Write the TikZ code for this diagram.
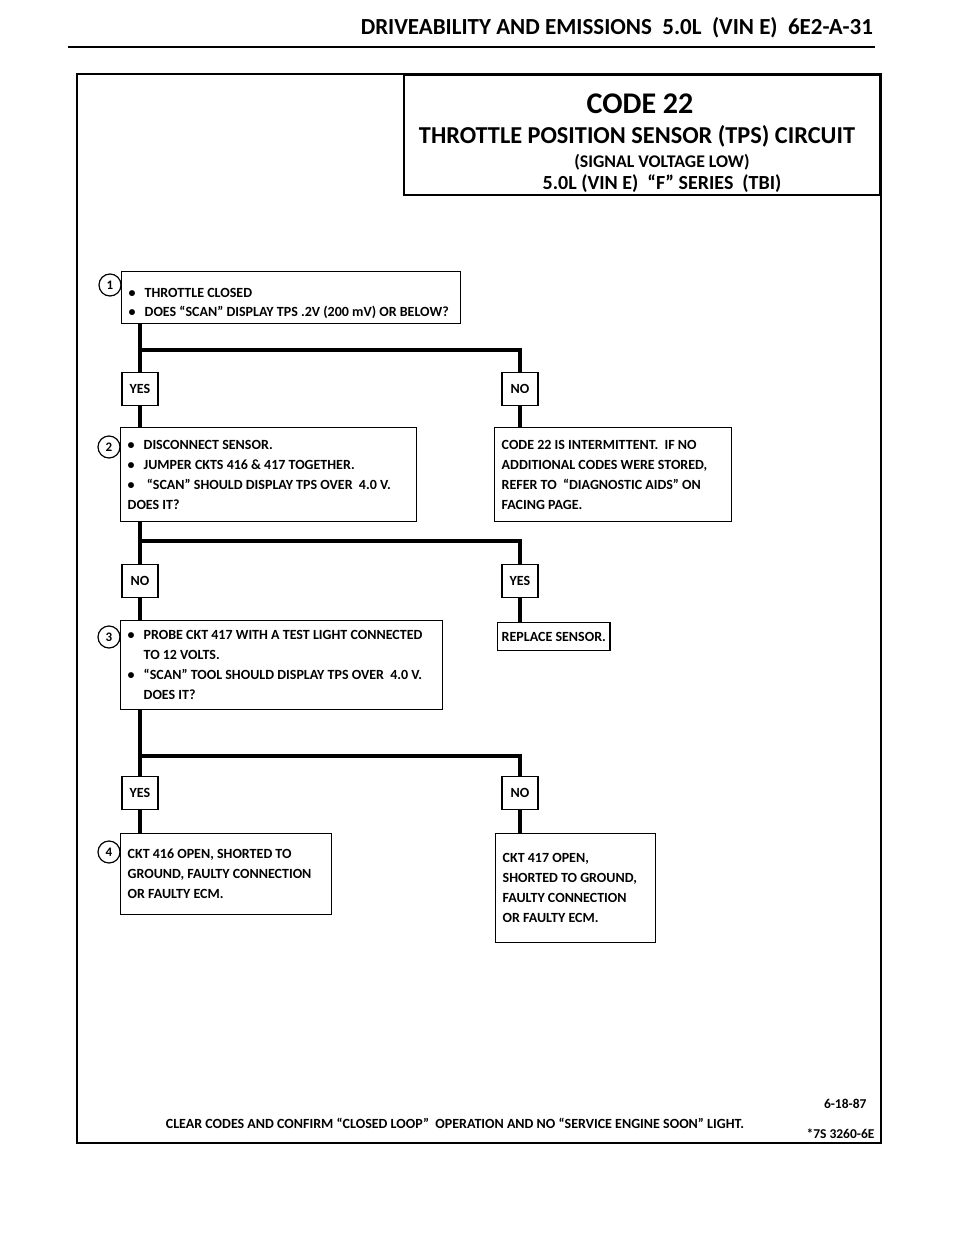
\documentclass[tikz,border=0pt]{standalone}
\usepackage{fontspec}
\setmainfont{Carlito}
\newcommand{\bul}{\makebox[16pt][l]{\textbullet}}
\newcommand{\ind}{\hspace*{16pt}}
\tikzset{
    stepbox/.style={draw, line width=1.4pt, anchor=north west, align=flush left,
        inner xsep=7pt, inner ysep=0pt, font=\bfseries\fontsize{14}{20}\selectfont},
    ynbox/.style={draw, line width=1.4pt, minimum height=33pt, minimum width=36pt, inner xsep=4pt,
        font=\bfseries\fontsize{14}{14}\selectfont},
    stepnum/.style={draw, circle, line width=1.2pt, minimum size=22pt, inner sep=0pt,
        font=\bfseries\fontsize{13}{14}\selectfont},
    flow/.style={line width=3.7pt, line join=miter},
}
\begin{document}
\begin{tikzpicture}[x=1pt,y=-1pt]
        \useasboundingbox (0,0) rectangle (960,1242);

        % page heading
        \node[anchor=base east, inner sep=0pt, font=\bfseries\fontsize{23}{25}\selectfont] (head) at (873,34)
            {DRIVEABILITY AND EMISSIONS\ \ 5.0L\ \ (VIN E)\ \ 6E2-A-31};
        \draw[line width=2.5pt] (68,47) -- (875,47);

        % frame and title
        \draw[line width=2.6pt] (77,74) rectangle (881,1143);
        \node[draw, line width=1.6pt, anchor=north east, minimum width=476pt, minimum height=120pt] (title) at (881,74) {};
        \node[anchor=base, font=\bfseries\fontsize{30}{32}\selectfont] (code) at (640,113) {CODE 22};
        \node[anchor=base, font=\bfseries\fontsize{24.3}{26}\selectfont] (tps) at (637,143) {THROTTLE POSITION SENSOR (TPS) CIRCUIT};
        \node[anchor=base, font=\bfseries\fontsize{17.8}{19}\selectfont] (sig) at (662,167) {(SIGNAL VOLTAGE LOW)};
        \node[anchor=base, font=\bfseries\fontsize{20}{22}\selectfont] (ser) at (662,189) {5.0L (VIN E)\ \ ``F'' SERIES\ \ (TBI)};

        % step 1
        \node[stepbox, text width=325pt, minimum height=52pt] (s1) at (121,271)
            {\rule{0pt}{20pt}\bul THROTTLE CLOSED\\[-1pt]\bul DOES ``SCAN'' DISPLAY TPS .2V (200 mV) OR BELOW?};
        \node[stepnum] (n1) at (110,285) {1};
        \node[ynbox] (yes1) at (140,389) {YES};
        \node[ynbox] (no1) at (520,389) {NO};

        % step 2
        \node[stepbox, text width=282pt, minimum height=94pt] (s2) at (120,427)
            {\bul DISCONNECT SENSOR.\\
             \bul JUMPER CKTS 416 \& 417 TOGETHER.\\
             \bul\ ``SCAN'' SHOULD DISPLAY TPS OVER\ \ 4.0 V.\\
             DOES IT?};
        \node[stepnum] (n2) at (109,447) {2};
        \node[stepbox, text width=223pt, minimum height=94pt] (inter) at (494,427)
            {CODE 22 IS INTERMITTENT.\ \ IF NO\\
             ADDITIONAL CODES WERE STORED,\\
             REFER TO\ \ ``DIAGNOSTIC AIDS'' ON\\
             FACING PAGE.};
        \node[ynbox] (no2) at (140,581) {NO};
        \node[ynbox] (yes2) at (520,581) {YES};

        % step 3
        \node[stepbox, text width=308pt, minimum height=89pt] (s3) at (120,620)
            {\bul PROBE CKT 417 WITH A TEST LIGHT CONNECTED\\
             \ind TO 12 VOLTS.\\
             \bul ``SCAN'' TOOL SHOULD DISPLAY TPS OVER\ \ 4.0 V.\\
             \ind DOES IT?};
        \node[stepnum] (n3) at (109,637) {3};
        \node[stepbox, inner xsep=4pt, minimum height=28pt] (repl) at (497,622) {REPLACE SENSOR.};
        \node[ynbox] (yes3) at (140,793) {YES};
        \node[ynbox] (no3) at (520,793) {NO};

        % step 4
        \node[stepbox, text width=197pt, minimum height=81pt] (s4) at (120,833)
            {CKT 416 OPEN, SHORTED TO\\
             GROUND, FAULTY CONNECTION\\
             OR FAULTY ECM.};
        \node[stepnum] (n4) at (109,852) {4};
        \node[stepbox, text width=146pt, minimum height=109pt] (ckt) at (495,833)
            {CKT 417 OPEN,\\
             SHORTED TO GROUND,\\
             FAULTY CONNECTION\\
             OR FAULTY ECM.};

        % flow lines
        \coordinate (j1) at (140,350);
        \coordinate (j2) at (140,541);
        \coordinate (j3) at (140,756);
        \draw[flow] (s1.south -| yes1) -- (yes1.north);
        \draw[flow] (j1) -| (no1.north);
        \draw[flow] (yes1.south) -- (yes1.south |- s2.north);
        \draw[flow] (no1.south) -- (no1.south |- inter.north);
        \draw[flow] (s2.south -| no2) -- (no2.north);
        \draw[flow] (j2) -| (yes2.north);
        \draw[flow] (no2.south) -- (no2.south |- s3.north);
        \draw[flow] (yes2.south) -- (yes2.south |- repl.north);
        \draw[flow] (s3.south -| yes3) -- (yes3.north);
        \draw[flow] (j3) -| (no3.north);
        \draw[flow] (yes3.south) -- (yes3.south |- s4.north);
        \draw[flow] (no3.south) -- (no3.south |- ckt.north);

        % footer
        \node[anchor=base, font=\bfseries\fontsize{14}{16}\selectfont] (clear) at (455,1128)
            {CLEAR CODES AND CONFIRM ``CLOSED LOOP''\ \ OPERATION AND NO ``SERVICE ENGINE SOON'' LIGHT.};
        \node[anchor=base east, font=\bfseries\fontsize{13.5}{15}\selectfont] (date) at (870,1108) {6-18-87};
        \node[anchor=base east, font=\bfseries\fontsize{13.5}{15}\selectfont] (ref) at (878,1138) {*7S 3260-6E};
    \end{tikzpicture}
\end{document}
